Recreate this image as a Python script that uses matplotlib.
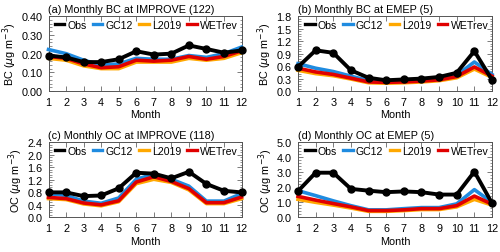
import matplotlib.pyplot as plt
from matplotlib.ticker import MultipleLocator, AutoMinorLocator

# --- DATA ---
months = list(range(1, 13))

bc_improve_obs = [0.19, 0.18, 0.155, 0.155, 0.17, 0.213, 0.195, 0.20, 0.244, 0.225, 0.205, 0.217]
bc_improve_gc12 = [0.222, 0.20, 0.165, 0.14, 0.145, 0.175, 0.17, 0.17, 0.19, 0.18, 0.20, 0.235]
bc_improve_l2019 = [0.175, 0.165, 0.135, 0.12, 0.12, 0.155, 0.155, 0.155, 0.175, 0.165, 0.175, 0.205]
bc_improve_wet = [0.185, 0.175, 0.145, 0.125, 0.13, 0.165, 0.16, 0.165, 0.185, 0.17, 0.185, 0.215]

bc_emep_obs = [0.58, 0.98, 0.92, 0.50, 0.32, 0.26, 0.28, 0.30, 0.34, 0.44, 0.96, 0.27]
bc_emep_gc12 = [0.66, 0.55, 0.47, 0.36, 0.25, 0.24, 0.25, 0.27, 0.30, 0.38, 0.70, 0.40]
bc_emep_l2019 = [0.50, 0.42, 0.37, 0.29, 0.20, 0.19, 0.20, 0.22, 0.25, 0.32, 0.53, 0.33]
bc_emep_wet = [0.55, 0.46, 0.40, 0.31, 0.22, 0.21, 0.22, 0.24, 0.27, 0.35, 0.58, 0.36]

oc_improve_obs = [0.80, 0.80, 0.68, 0.70, 0.93, 1.43, 1.40, 1.25, 1.46, 1.07, 0.85, 0.80]
oc_improve_gc12 = [0.76, 0.70, 0.52, 0.45, 0.62, 1.22, 1.38, 1.22, 1.00, 0.52, 0.52, 0.76]
oc_improve_l2019 = [0.60, 0.57, 0.43, 0.37, 0.50, 1.08, 1.22, 1.12, 0.88, 0.44, 0.44, 0.60]
oc_improve_wet = [0.64, 0.60, 0.46, 0.40, 0.53, 1.13, 1.30, 1.15, 0.92, 0.47, 0.47, 0.65]

oc_emep_obs = [1.75, 2.98, 2.98, 1.90, 1.78, 1.68, 1.73, 1.68, 1.52, 1.52, 3.05, 0.95]
oc_emep_gc12 = [1.78, 1.45, 1.10, 0.78, 0.50, 0.50, 0.58, 0.65, 0.65, 0.90, 1.85, 1.00]
oc_emep_l2019 = [1.20, 1.00, 0.82, 0.62, 0.40, 0.40, 0.45, 0.52, 0.52, 0.70, 1.20, 0.82]
oc_emep_wet = [1.40, 1.15, 0.92, 0.70, 0.45, 0.45, 0.50, 0.58, 0.58, 0.78, 1.42, 0.88]

panels = [
    ("(a) Monthly BC at IMPROVE (122)", "BC", 0.40, 0.10, "%.2f",
     bc_improve_obs, bc_improve_gc12, bc_improve_l2019, bc_improve_wet),
    ("(b) Monthly BC at EMEP (5)", "BC", 1.8, 0.3, "%.1f",
     bc_emep_obs, bc_emep_gc12, bc_emep_l2019, bc_emep_wet),
    ("(c) Monthly OC at IMPROVE (118)", "OC", 2.4, 0.4, "%.1f",
     oc_improve_obs, oc_improve_gc12, oc_improve_l2019, oc_improve_wet),
    ("(d) Monthly OC at EMEP (5)", "OC", 5.0, 1.0, "%.1f",
     oc_emep_obs, oc_emep_gc12, oc_emep_l2019, oc_emep_wet),
]

# axes boxes: left, bottom, width, height (figure fraction)
boxes = [
    [0.097, 0.636, 0.386, 0.296],
    [0.596, 0.636, 0.388, 0.296],
    [0.097, 0.137, 0.386, 0.296],
    [0.596, 0.137, 0.388, 0.296],
]

plt.rcParams['font.family'] = ['Liberation Sans', 'DejaVu Sans']

fig = plt.figure(figsize=(5, 2.53), dpi=100)

for box, (title, spec, ymax, ystep, fmt, obs, gc12, l2019, wet) in zip(boxes, panels):
    ax = fig.add_axes(box)
    ax.plot(months, gc12, color='#1f8be0', lw=2.6, label='GC12', clip_on=False, zorder=3)
    ax.plot(months, l2019, color='#ffa800', lw=2.6, label='L2019', clip_on=False, zorder=3)
    ax.plot(months, wet, color='#e00000', lw=2.6, label='WETrev', clip_on=False, zorder=4)
    ax.plot(months, obs, color='black', lw=2.8, marker='o', ms=5, label='Obs', clip_on=False, zorder=5)

    ax.set_xlim(1, 12)
    ax.set_ylim(0, ymax)
    ax.set_xticks(months)
    ax.yaxis.set_major_locator(MultipleLocator(ystep))
    ax.yaxis.set_minor_locator(AutoMinorLocator(5))
    ax.yaxis.set_major_formatter(plt.FormatStrFormatter(fmt))
    ax.tick_params(which='both', direction='in', top=True, right=True, labelsize=7.8)
    ax.tick_params(axis='y', pad=4.5)
    ax.tick_params(axis='x', pad=4)
    ax.tick_params(which='major', length=3.5, width=0.6, color='#666666')
    ax.tick_params(which='minor', length=1.8, width=0.5, color='#666666')
    for s in ax.spines.values():
        s.set_linewidth(0.7)
        s.set_color('#555555')

    ax.set_title(title, loc='left', fontsize=7.8, pad=3)
    ax.set_xlabel("Month", fontsize=7.8, labelpad=2)
    ax.set_ylabel(spec + r" ($\mu$g m$^{-3}$)", fontsize=7.8, labelpad=1.5)

    handles, labels = ax.get_legend_handles_labels()
    order = [3, 0, 1, 2]
    leg = ax.legend([handles[i] for i in order], [labels[i] for i in order],
                    loc='upper right', bbox_to_anchor=(1.0, 1.0), ncol=4, frameon=False,
                    fontsize=7.6, handlelength=0.9, handletextpad=0.3, columnspacing=0.6,
                    borderaxespad=0.1, borderpad=0.25, markerscale=0)
    for h in leg.legend_handles:
        h.set_linewidth(2.4)

fig.savefig("out.png", dpi=100)
